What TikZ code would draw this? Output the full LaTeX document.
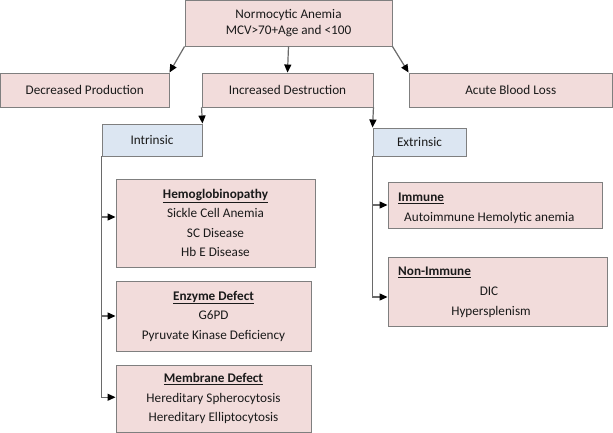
\documentclass[tikz,border=0pt]{standalone}
\usepackage{fontspec}
\setmainfont{Carlito}
\usetikzlibrary{arrows.meta}
\definecolor{pinkf}{HTML}{F2DCDB}
\definecolor{bluef}{HTML}{DCE6F2}
\definecolor{bord}{HTML}{7F7F7F}
\definecolor{conn}{HTML}{6A6A6A}
\definecolor{txtc}{HTML}{1A1A1A}
\newcommand{\ttl}[1]{\underline{\textbf{#1}}}
\tikzset{
  base/.style={draw=bord, line width=0.9pt, inner sep=0pt, text=txtc,
    font=\fontsize{13.2}{19.5}\selectfont, align=center},
  pinkbox/.style={base, fill=pinkf},
  bluebox/.style={base, fill=bluef},
  lbl/.style={inner sep=0pt, text=txtc, font=\fontsize{13.2}{19.5}\selectfont},
  link/.style={draw=conn, line width=1.2pt, -{Triangle[length=8pt,width=7pt,color=black]}},
}
\begin{document}
\begin{tikzpicture}[x=1pt,y=-1pt]
\useasboundingbox (0,0) rectangle (613,433);
% top level
\node[pinkbox, minimum width=207pt, minimum height=45.5pt, font=\fontsize{13.2}{16.5}\selectfont] (top) at (288.5,23.25)
  {Normocytic Anemia\\MCV>70+Age and <100};
\node[pinkbox, minimum width=168.5pt, minimum height=34pt] (dp) at (84.75,90) {Decreased Production};
\node[pinkbox, minimum width=171pt, minimum height=34pt] (id) at (287.5,90) {Increased Destruction};
\node[pinkbox, minimum width=203.5pt, minimum height=34pt] (abl) at (510.75,90) {Acute Blood Loss};
% second level
\node[bluebox, minimum width=100pt, minimum height=32pt] (intr) at (152,140) {Intrinsic};
\node[bluebox, minimum width=93pt, minimum height=28pt] (extr) at (419.5,142) {Extrinsic};
% intrinsic children
\node[pinkbox, minimum width=199pt, minimum height=88pt] (hemo) at (215.5,223)
  {\ttl{Hemoglobinopathy}\\Sickle Cell Anemia\\SC Disease\\Hb E Disease};
\node[pinkbox, minimum width=195pt, minimum height=70pt] (enz) at (213.5,316)
  {\ttl{Enzyme Defect}\\G6PD\\Pyruvate Kinase Deficiency};
\node[pinkbox, minimum width=195pt, minimum height=67.5pt] (memb) at (213.5,398.75)
  {\ttl{Membrane Defect}\\Hereditary Spherocytosis\\Hereditary Elliptocytosis};
% extrinsic children
\node[pinkbox, minimum width=214pt, minimum height=46pt] (imm) at (495,205) {};
\node[lbl, anchor=base west] (immt) at (398,201.5) {\ttl{Immune}};
\node[lbl, anchor=base west] (immd) at (404,221) {Autoimmune Hemolytic anemia};
\node[pinkbox, minimum width=219pt, minimum height=69pt] (nonimm) at (497.5,291.5) {};
\node[lbl, anchor=base west] (nont) at (398,275.5) {\ttl{Non-Immune}};
\node[lbl, anchor=base] (dic) at (489,295.5) {DIC};
\node[lbl, anchor=base] (hyp) at (491,315) {Hypersplenism};
% connectors
\draw[link] (top.south west) -- (dp.north east);
\draw[link] (top.south) -- (id.north);
\draw[link] (top.south east) -- (abl.north west);
\draw[link] (id.south west) -- (intr.north east);
\draw[link] (id.south east) -- (extr.north west);
\draw[link] (intr.south west) |- ([yshift=6pt]hemo.west);
\draw[link] (intr.south west) |- (enz.west);
\draw[link] (intr.south west) |- ([yshift=1.5pt]memb.west);
\draw[link] (extr.south west) |- (imm.west);
\draw[link] (extr.south west) |- ([yshift=-5.5pt]nonimm.west);
\end{tikzpicture}
\end{document}
